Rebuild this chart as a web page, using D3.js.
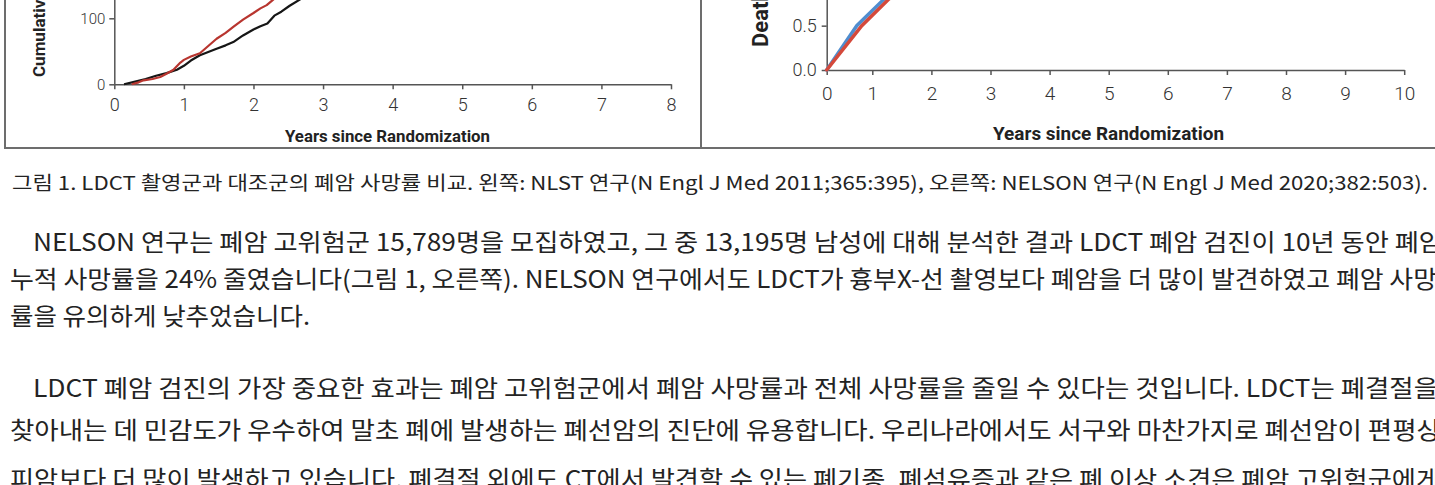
<!DOCTYPE html>
<html><head><meta charset="utf-8">
<script src="https://cdn.jsdelivr.net/npm/d3@7/dist/d3.min.js"></script>
<style>
html,body{margin:0;padding:0;background:#fff;overflow:hidden;}
svg{display:block;}
</style></head>
<body>
<svg id="c" width="1435" height="485"></svg>
<script>
// ---------- data ----------
const nlstTicksX = [0,1,2,3,4,5,6,7,8];
const nlstTicksY = [0,100,200];
const nlstBlackYears = [0.14,0.3,0.45,0.6,0.75,0.9,1.0,1.1,1.23,1.35,1.47,1.6,1.71,1.85,2.0,2.1,2.2,2.3,2.4,2.52,2.66,2.8];
const nlstBlackVals  = [0,4,8,13,17,22,28,36,44,49,54,59,64,74,83,88,92,104,110,119,128,138];
const nlstRedYears = [0.25,0.35,0.42,0.55,0.66,0.75,0.85,0.95,1.0,1.1,1.23,1.35,1.47,1.6,1.71,1.85,2.0,2.1,2.19,2.28,2.4];
const nlstRedVals  = [0,3,6,8,11,16,22,33,37,42,47,58,69,78,87,98,108,115,120,128,138];
const nelsonTicksX = [0,1,2,3,4,5,6,7,8,9,10];
const nelsonTicksY = [0,0.5,1.0,1.5];
const nelsonBlueYears = [0,0.66,1.2,1.4];
const nelsonBlueVals  = [0,0.5,0.8,0.92];
const nelsonRedYears = [0,0.77,1.28,1.5];
const nelsonRedVals  = [0,0.5,0.8,0.93];
const xTitle = "Years since Randomization";
const nlstYTitle = "Cumulative No. of Lung-Cancer Deaths";
const nelsonYTitle = "Deaths from Lung Cancer (%)";
const caption = "그림 1. LDCT 촬영군과 대조군의 폐암 사망률 비교. 왼쪽: NLST 연구(N Engl J Med 2011;365:395), 오른쪽: NELSON 연구(N Engl J Med 2020;382:503).";
const para1 = [
 "NELSON 연구는 폐암 고위험군 15,789명을 모집하였고, 그 중 13,195명 남성에 대해 분석한 결과 LDCT 폐암 검진이 10년 동안 폐암",
 "누적 사망률을 24% 줄였습니다(그림 1, 오른쪽). NELSON 연구에서도 LDCT가 흉부X-선 촬영보다 폐암을 더 많이 발견하였고 폐암 사망",
 "률을 유의하게 낮추었습니다."
];
const para2 = [
 "LDCT 폐암 검진의 가장 중요한 효과는 폐암 고위험군에서 폐암 사망률과 전체 사망률을 줄일 수 있다는 것입니다. LDCT는 폐결절을",
 "찾아내는 데 민감도가 우수하여 말초 폐에 발생하는 폐선암의 진단에 유용합니다. 우리나라에서도 서구와 마찬가지로 폐선암이 편평상",
 "피암보다 더 많이 발생하고 있습니다. 폐결절 외에도 CT에서 발견할 수 있는 폐기종, 폐섬유증과 같은 폐 이상 소견은 폐암 고위험군에게"
];

// ---------- drawing ----------
const svg = d3.select("#c");
const axisColor = "#555";
const chartFont = "Roboto, 'Open Sans', sans-serif";
const textFont = "'Noto Sans CJK KR', 'Noto Sans', sans-serif";

// frame
const frame = svg.append("g").attr("stroke","#6d6d6d").attr("stroke-width",2).attr("fill","none");
frame.append("path").attr("d","M5,0 V148 H1440");
frame.append("path").attr("d","M701,0 V148");

function styleAxis(g){
  g.selectAll("path,line").attr("stroke",axisColor).attr("stroke-width",1.5);
  g.selectAll("text").attr("fill","#333").attr("font-family",chartFont);
}

// ---- left panel (NLST)
const xL = d3.scaleLinear().domain([0,8]).range([114.3,671]);
const yL = d3.scaleLinear().domain([0,200]).range([84.3,-47.7]);
svg.append("g").attr("transform","translate(0,84.3)")
  .call(d3.axisBottom(xL).tickValues(nlstTicksX).tickSize(5).tickSizeOuter(0).tickPadding(9).tickFormat(d3.format("d")))
  .call(styleAxis).call(g=>g.selectAll("text").attr("font-size",18).attr("font-weight",300));
svg.append("g").attr("transform","translate(114.3,0)")
  .call(d3.axisLeft(yL).tickValues(nlstTicksY).tickSize(5).tickSizeOuter(0).tickPadding(4).tickFormat(d3.format("d")))
  .call(styleAxis).call(g=>g.selectAll("text").attr("font-size",15).attr("font-weight",300));

const lineL = d3.line().x(d=>xL(d[0])).y(d=>yL(d[1]));
svg.append("path").datum(d3.zip(nlstBlackYears,nlstBlackVals)).attr("d",lineL)
  .attr("fill","none").attr("stroke","#161616").attr("stroke-width",2.2).attr("stroke-linejoin","round");
svg.append("path").datum(d3.zip(nlstRedYears,nlstRedVals)).attr("d",lineL)
  .attr("fill","none").attr("stroke","#b8352f").attr("stroke-width",2.2).attr("stroke-linejoin","round");

svg.append("text").attr("x",387.5).attr("y",142).attr("text-anchor","middle")
  .attr("font-family",chartFont).attr("font-weight",700).attr("font-size",16).attr("fill","#222")
  .attr("textLength",205).attr("lengthAdjust","spacingAndGlyphs").text(xTitle);
svg.append("text").attr("transform","translate(45,77) rotate(-90)").attr("text-anchor","start")
  .attr("font-family",chartFont).attr("font-weight",700).attr("font-size",17).attr("fill","#222")
  .text(nlstYTitle);

// ---- right panel (NELSON)
const xR = d3.scaleLinear().domain([0,1,10]).range([826.7,872.3,1404.2]);
const yR = d3.scaleLinear().domain([0,1.5]).range([70,-63]);
svg.append("g").attr("transform","translate(0,70)")
  .call(d3.axisBottom(xR).tickValues(nelsonTicksX).tickSize(5).tickSizeOuter(0).tickPadding(12).tickFormat(d3.format("d")))
  .call(styleAxis).call(g=>g.selectAll("text").attr("font-size",19).attr("font-weight",300));
svg.append("g").attr("transform","translate(826.7,0)")
  .call(d3.axisLeft(yR).tickValues(nelsonTicksY).tickSize(5).tickSizeOuter(0).tickPadding(5).tickFormat(d3.format(".1f")))
  .call(styleAxis).call(g=>g.selectAll("text").attr("font-size",18).attr("font-weight",300));

const lineR = d3.line().x(d=>xR(d[0])).y(d=>yR(d[1]));
svg.append("path").datum(d3.zip(nelsonBlueYears,nelsonBlueVals)).attr("d",lineR)
  .attr("fill","none").attr("stroke","#4f8dcf").attr("stroke-width",3.5).attr("stroke-linecap","round");
svg.append("path").datum(d3.zip(nelsonRedYears,nelsonRedVals)).attr("d",lineR)
  .attr("fill","none").attr("stroke","#d4493b").attr("stroke-width",3.5).attr("stroke-linecap","round");

svg.append("text").attr("x",1108.5).attr("y",140).attr("text-anchor","middle")
  .attr("font-family",chartFont).attr("font-weight",700).attr("font-size",19).attr("fill","#222")
  .attr("textLength",231).attr("lengthAdjust","spacingAndGlyphs").text(xTitle);
svg.append("text").attr("transform","translate(768,47) rotate(-90)").attr("text-anchor","start")
  .attr("font-family",chartFont).attr("font-weight",700).attr("font-size",22).attr("fill","#222")
  .text(nelsonYTitle);

// ---- caption and paragraphs
function line(txt,x,y,len,size){
  svg.append("text").attr("x",x).attr("y",y).attr("font-family",textFont).attr("font-size",size)
    .attr("fill","#232323").attr("textLength",len).attr("lengthAdjust","spacingAndGlyphs").text(txt);
}
line(caption,12,190,1416,19);
const p1x=[33,10,10], p1len=[1410,1427,300], p1y=[251,288,325];
para1.forEach((t,i)=>line(t,p1x[i],p1y[i],p1len[i],24));
const p2x=[33,10,10], p2len=[1405,1431,1430], p2y=[397,439,488];
para2.forEach((t,i)=>line(t,p2x[i],p2y[i],p2len[i],24));
</script>
</body></html>
